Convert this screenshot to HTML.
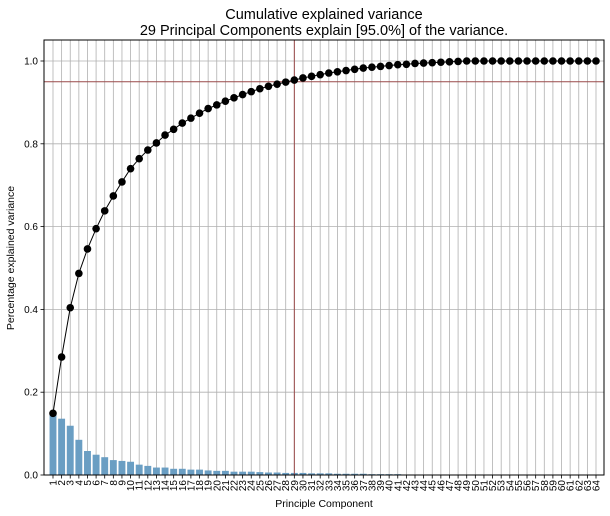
<!DOCTYPE html>
<html><head><meta charset="utf-8"><style>
body{margin:0;background:#fff;}
svg{display:block;font-family:"Liberation Sans","DejaVu Sans",sans-serif;}
</style></head><body>
<svg id="chart" width="610" height="516" xmlns="http://www.w3.org/2000/svg">
<text x="324" y="19" font-size="14.5" text-anchor="middle" fill="#000">Cumulative explained variance</text>
<text x="324" y="35" font-size="14.5" text-anchor="middle" fill="#000">29 Principal Components explain [95.0%] of the variance.</text>
<g id="grid"></g><g id="bars"></g><g id="refs"></g><g id="line"></g><g id="axes"></g>
<text x="324" y="507" font-size="10.5" text-anchor="middle">Principle Component</text>
<text transform="translate(14,258) rotate(-90)" font-size="10.5" text-anchor="middle">Percentage explained variance</text>
</svg>
<script>
const components = Array.from({length:64},(_,i)=>i+1);
const explained = [0.149,0.136,0.119,0.085,0.058,0.049,0.043,0.036,0.034,0.032,0.025,0.022,0.018,0.018,0.015,0.015,0.013,0.013,0.011,0.010,0.010,0.008,0.008,0.008,0.007,0.006,0.006,0.005,0.005,0.005,0.004,0.004,0.004,0.003,0.003,0.003,0.003,0.002,0.002,0.002,0.002,0.001,0.001,0.001,0,0,0,0,0,0,0,0,0,0,0,0,0,0,0,0,0,0,0,0];
const cumulative = [0.149,0.285,0.404,0.487,0.546,0.595,0.638,0.674,0.708,0.740,0.764,0.785,0.802,0.821,0.835,0.850,0.862,0.874,0.885,0.894,0.903,0.911,0.919,0.926,0.933,0.939,0.944,0.949,0.954,0.959,0.963,0.967,0.971,0.974,0.977,0.980,0.983,0.985,0.987,0.989,0.991,0.992,0.994,0.995,0.996,0.997,0.998,0.999,1,1,1,1,1,1,1,1,1,1,1,1,1,1,1,1];
const yTicks = [0.0,0.2,0.4,0.6,0.8,1.0];
const threshold = 0.95;
const nComponents = 29;

const L=44,R=604,T=40,B=475;
const X=c=>53+(c-1)*(543/63);
const Y=v=>475-v*414;
const NS="http://www.w3.org/2000/svg";
function mk(tag,attrs,parent){const e=document.createElementNS(NS,tag);for(const k in attrs)e.setAttribute(k,attrs[k]);parent.appendChild(e);return e;}
const grid=document.getElementById('grid'),bars=document.getElementById('bars'),refs=document.getElementById('refs'),line=document.getElementById('line'),axes=document.getElementById('axes');

components.forEach(c=>{
  const g=mk('line',{x1:X(c),x2:X(c),y1:T,y2:B,stroke:'#b0b0b0','stroke-width':0.8},grid);
  
  
  const t=mk('line',{x1:X(c),x2:X(c),y1:B,y2:B+3.5,stroke:'#000','stroke-width':0.8},axes);
  
  
  const lb=mk('text',{transform:`translate(${X(c)+3.5},${B+5}) rotate(-90)`,'font-size':10,'text-anchor':'end'},axes);
  lb.textContent=c;
  
  
});
yTicks.forEach(v=>{
  const g=mk('line',{x1:L,x2:R,y1:Y(v),y2:Y(v),stroke:'#b0b0b0','stroke-width':0.8},grid);
  
  
  const t=mk('line',{x1:L-3.5,x2:L,y1:Y(v),y2:Y(v),stroke:'#000','stroke-width':0.8},axes);
  
  
  const lb=mk('text',{x:L-6,y:Y(v)+3.5,'font-size':10,'text-anchor':'end'},axes);
  lb.textContent=v.toFixed(1);
  
  
});
const bw=0.8*543/63;
explained.forEach((v,i)=>{
  const b=mk('rect',{x:X(components[i])-bw/2,y:Y(v),width:bw,height:Math.max(0,B-Y(v)),fill:'#6a9ec3'},bars);
  
  
});
const h=mk('line',{x1:L,x2:R,y1:Y(threshold),y2:Y(threshold),stroke:'#9a4a4a','stroke-width':1},refs);


const vl=mk('line',{x1:X(nComponents),x2:X(nComponents),y1:T,y2:B,stroke:'#9a4a4a','stroke-width':1},refs);


const pl=mk('polyline',{points:cumulative.map((v,i)=>X(components[i])+','+Y(v)).join(' '),fill:'none',stroke:'#000','stroke-width':1},line);


cumulative.forEach((v,i)=>{
  const p=mk('circle',{cx:X(components[i]),cy:Y(v),r:3.8,fill:'#000'},line);
  
  
});
const fr=mk('rect',{x:L,y:T,width:R-L,height:B-T,fill:'none',stroke:'#000','stroke-width':1},axes);


</script>
</body></html>
